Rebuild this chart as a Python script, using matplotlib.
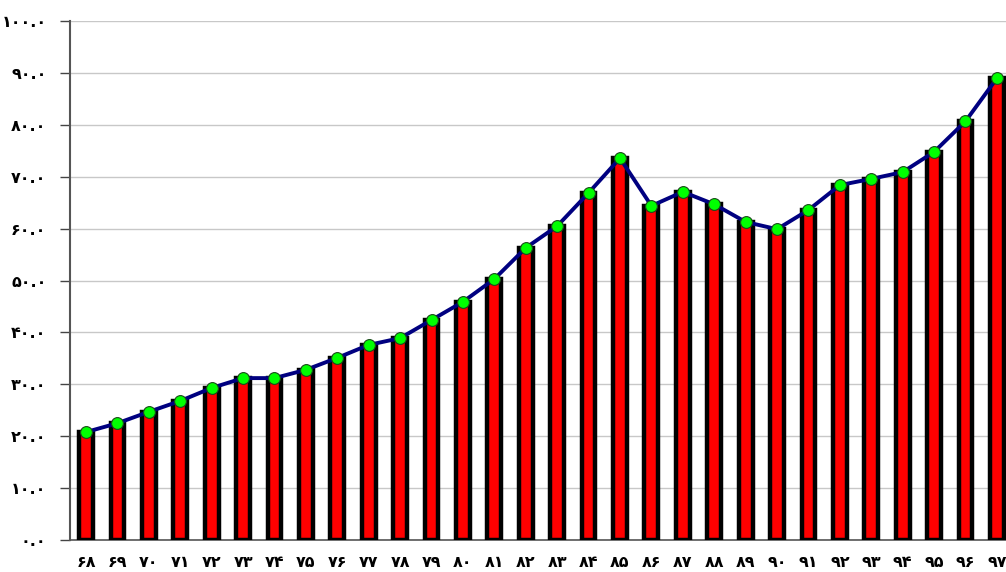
import matplotlib
matplotlib.use("Agg")
import matplotlib.pyplot as plt
import numpy as np

years = ["68", "69", "70", "71", "72", "73", "74", "75", "76", "77", "78", "79", "80", "81", "82",
         "83", "84", "85", "86", "87", "88", "89", "90", "91", "92", "93", "94", "95", "96", "97"]
values = [20.8, 22.5, 24.7, 26.8, 29.3, 31.2, 31.2, 32.8, 35.1, 37.6, 38.9, 42.4, 45.9, 50.3, 56.3,
          60.5, 66.9, 73.6, 64.4, 67.1, 64.7, 61.3, 59.9, 63.6, 68.4, 69.6, 70.9, 74.8, 80.7, 89.0]
yticks = [0, 10, 20, 30, 40, 50, 60, 70, 80, 90, 100]

fa = str.maketrans("0123456789", "۰۱۲۳۴۵۶۷۸۹")
def fa_num(s):
    return s.translate(fa)

plt.rcParams['font.family'] = ['DejaVu Sans']

fig = plt.figure(figsize=(10.06, 5.72), dpi=100)
ax = fig.add_axes([0.0696, 0.056, 0.9304, 0.907])

x = np.arange(len(years))
ax.bar(x, values, width=0.44, color='#FF0000', edgecolor='black', linewidth=3.2, zorder=3)
ax.plot(x, values, color='#000080', linewidth=2.8, zorder=4,
        marker='o', markersize=8.5, markerfacecolor='#00FF00', markeredgecolor='#1a4a1a',
        markeredgewidth=0.8)

ax.set_ylim(0, 100)
ax.set_xlim(-0.51, 29.29)
ax.set_yticks(yticks)
ax.set_yticklabels([fa_num(f"{v:.1f}") for v in yticks], fontsize=11.5, fontweight='bold')
ax.set_xticks(x)
ax.set_xticklabels([fa_num(y) for y in years], fontsize=11.5, fontweight='bold')
ax.tick_params(axis='x', length=0, pad=11)
ax.tick_params(axis='y', length=7, width=1, color='#444444', pad=10)

ax.yaxis.grid(True, color='#c8c8c8', linewidth=1)
ax.set_axisbelow(True)
for s in ['top', 'right']:
    ax.spines[s].set_visible(False)
ax.spines['left'].set_color('#555555')
ax.spines['left'].set_linewidth(1.5)
ax.spines['bottom'].set_color('#555555')
ax.spines['bottom'].set_linewidth(1.2)

fig.savefig("out.png", dpi=100)
